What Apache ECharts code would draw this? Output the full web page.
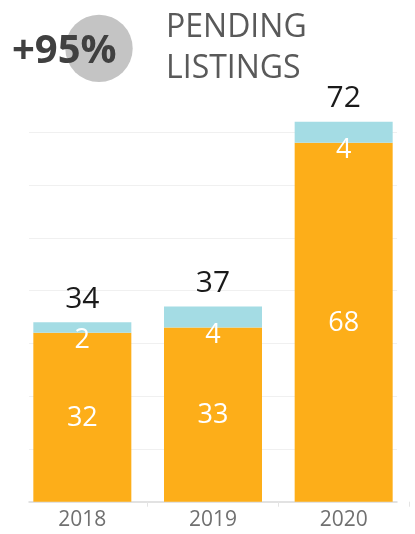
<!DOCTYPE html>
<html>
<head>
<meta charset="utf-8">
<script src="https://cdn.jsdelivr.net/npm/echarts@6/dist/echarts.min.js"></script>
<style>html,body{margin:0;padding:0;background:#fff}#c{width:415px;height:534px}</style>
</head>
<body>
<div id="c"></div>
<script>
const categories = ['2018', '2019', '2020'];
const baseValues = [32, 33, 68];
const extraValues = [2, 4, 4];
const totalValues = [34, 37, 72];
const yTicksMax = 72;
const headline = '+95%';
const titleText = 'PENDING\nLISTINGS';

const FONT = "'Open Sans', 'Noto Sans', sans-serif";
const chart = echarts.init(document.getElementById('c'), null, {renderer: 'canvas'});
const gridTop = 121.7, gridBottom = 32.3;

chart.setOption({
  animation: false,
  backgroundColor: '#ffffff',
  graphic: [{
    type: 'circle', z: 0,
    shape: {cx: 99, cy: 48.4, r: 33.7},
    style: {fill: '#c4c4c4'}
  }],
  title: [
    {text: headline, left: 7, top: 27, z: 10,
     textStyle: {fontFamily: FONT, fontSize: 40, fontWeight: 'bold', color: '#404040'}},
    {text: titleText, left: 161, top: 2,
     textStyle: {fontFamily: FONT, fontSize: 32, fontWeight: 'normal', color: '#595959', lineHeight: 41}}
  ],
  grid: [
    {left: 17, right: 6, top: gridTop, bottom: gridBottom},
    {left: 29, right: 18, top: gridTop, bottom: gridBottom}
  ],
  xAxis: [
    {type: 'category', gridIndex: 0, data: categories,
     axisLine: {show: false},
     axisTick: {show: true, length: 5, lineStyle: {color: '#e4e4e4'},
                interval: function (index) { return index !== 0 && index !== categories.length; }},
     axisLabel: {fontFamily: FONT, fontSize: 21, color: '#707070', margin: 8, interval: 0}},
    {type: 'category', gridIndex: 1, data: categories,
     axisLine: {show: true, lineStyle: {color: '#d9d9d9', width: 1.5}},
     axisTick: {show: false}, axisLabel: {show: false}}
  ],
  yAxis: [
    {type: 'value', gridIndex: 0, min: 0, max: yTicksMax, interval: 10, show: false,
     splitLine: {show: false}},
    {type: 'value', gridIndex: 1, min: 0, max: yTicksMax, interval: 10,
     axisLine: {show: false}, axisTick: {show: false}, axisLabel: {show: false},
     splitLine: {show: true, showMaxLine: false, showMinLine: false, lineStyle: {color: '#f0f0f0', width: 1}}}
  ],
  series: [
    {type: 'bar', name: 'base', stack: 'a', xAxisIndex: 0, yAxisIndex: 0, data: baseValues,
     barWidth: 98, itemStyle: {color: '#fdae19'},
     label: {show: true, position: 'inside', offset: [0, 1], color: '#ffffff', fontFamily: FONT, fontSize: 27}},
    {type: 'bar', name: 'extra', stack: 'a', xAxisIndex: 0, yAxisIndex: 0, data: extraValues,
     barWidth: 98, itemStyle: {color: '#a4dce4'},
     label: {show: true, position: 'bottom', distance: -6, color: '#ffffff', fontFamily: FONT, fontSize: 27}},
    {type: 'bar', name: 'total', xAxisIndex: 0, yAxisIndex: 0, data: totalValues,
     barWidth: 98, barGap: '-100%', itemStyle: {color: 'rgba(0,0,0,0)'}, z: 5,
     label: {show: true, position: 'top', distance: 8, color: '#1a1a1a', fontFamily: FONT, fontSize: 30}}
  ]
});
</script>
</body>
</html>
